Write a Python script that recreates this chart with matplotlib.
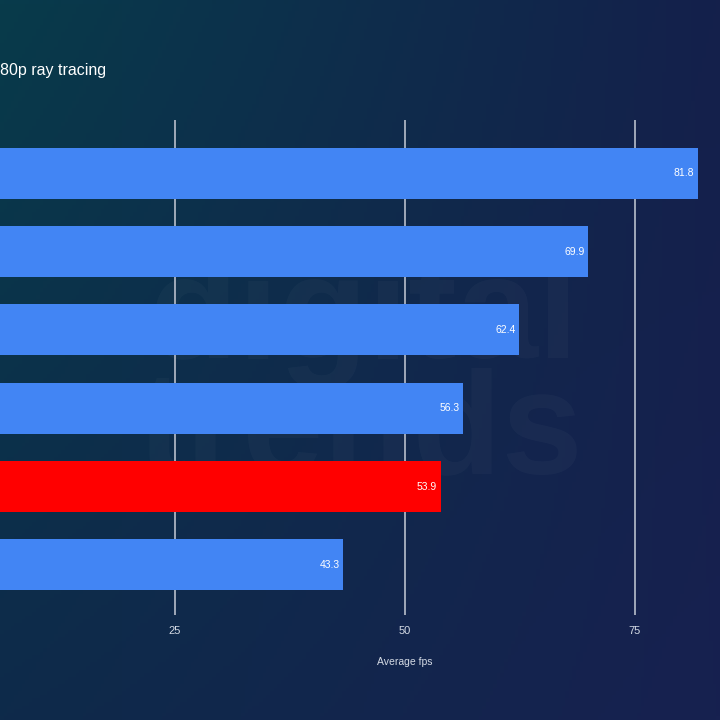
import numpy as np
import matplotlib
matplotlib.use("Agg")
import matplotlib.pyplot as plt

# Data (category names are cropped off the left edge)
values = [81.8, 69.9, 62.4, 56.3, 53.9, 43.3]
bar_colors = ["#4285f4", "#4285f4", "#4285f4", "#4285f4", "#ff0000", "#4285f4"]
x_ticks = [25, 50, 75]
x_tick_labels = ["25", "50", "75"]
title_text = "80p ray tracing"
x_label = "Average fps"

plt.rcParams['font.family'] = ['Liberation Sans', 'DejaVu Sans']

fig = plt.figure(figsize=(7.2, 7.2), dpi=100)

# Background gradient
bg = fig.add_axes([0, 0, 1, 1], zorder=-10)
bg.axis("off")
tl = np.array([0x08, 0x3b, 0x4b]) / 255
tr = np.array([0x14, 0x20, 0x4b]) / 255
bl = np.array([0x0e, 0x2a, 0x4a]) / 255
br = np.array([0x17, 0x21, 0x50]) / 255
n = 200
u = np.linspace(0, 1, n)[None, :, None]
v = np.linspace(0, 1, n)[:, None, None]
img = (1 - v) * ((1 - u) * tl + u * tr) + v * ((1 - u) * bl + u * br)
bg.imshow(img, extent=[0, 1, 0, 1], aspect="auto", origin="upper")
bg.set_xlim(0, 1)
bg.set_ylim(0, 1)

# Faint watermark
bg.text(0.505, 0.555, "digital", fontsize=105, fontweight="bold", color="white",
        alpha=0.028, ha="center", va="center")
bg.text(0.50, 0.395, "trends", fontsize=105, fontweight="bold", color="white",
        alpha=0.028, ha="center", va="center")

# Main axes (left part extends beyond the figure, as in the cropped reference)
ax = fig.add_axes([-55 / 720, 1 - 615 / 720, 920 / 720, 495 / 720])
ax.set_facecolor("none")
y = np.arange(len(values))
ax.barh(y, values, height=0.65, color=bar_colors, zorder=2)
ax.set_xlim(0, 100)
ax.set_ylim(5.64, -0.68)
ax.set_xticks(x_ticks)
ax.set_xticklabels(x_tick_labels)
ax.set_yticks([])
ax.grid(axis="x", color="#b8bfcc", linewidth=1.2, zorder=0)
ax.tick_params(axis="x", length=0, pad=8, labelsize=8, colors="#d4dae4")
for s in ax.spines.values():
    s.set_visible(False)
ax.set_xlabel(x_label, fontsize=7.5, color="#d4dae4", labelpad=15)

for yi, val in zip(y, values):
    ax.text(val - 0.4, yi, f"{val:.1f}", ha="right", va="center",
            fontsize=7.5, color="white", zorder=3)

fig.text(0.0, 1 - 70 / 720, title_text, fontsize=11.5, color="white",
         ha="left", va="center")

fig.savefig("out.png", dpi=100)
